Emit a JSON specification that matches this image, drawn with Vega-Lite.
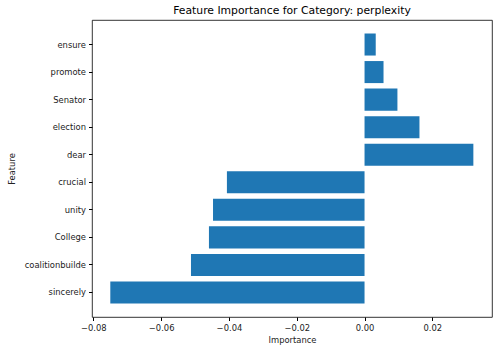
{
  "$schema": "https://vega.github.io/schema/vega-lite/v6.json",
  "width": 400,
  "height": 297,
  "autosize": {"type": "none"},
  "padding": {"left": 92, "top": 20, "right": 6, "bottom": 35},
  "background": "white",
  "title": {
    "text": "Feature Importance for Category: perplexity",
    "font": "DejaVu Sans",
    "fontSize": 10.8,
    "fontWeight": "normal",
    "color": "black",
    "offset": 4,
    "anchor": "middle"
  },
  "config": {
    "view": {"stroke": "black", "strokeWidth": 0.8},
    "axis": {
      "labelFont": "DejaVu Sans",
      "titleFont": "DejaVu Sans",
      "labelFontSize": 8.4,
      "titleFontSize": 8.4,
      "titleFontWeight": "normal",
      "labelColor": "#222",
      "titleColor": "#222",
      "tickColor": "black",
      "domainColor": "black",
      "tickSize": 3.5,
      "labelPadding": 3,
      "grid": false,
      "domain": false
    }
  },
  "data": {
    "values": [
      {"feature": "ensure", "importance": 0.0033},
      {"feature": "promote", "importance": 0.0056},
      {"feature": "Senator", "importance": 0.0097},
      {"feature": "election", "importance": 0.0162},
      {"feature": "dear", "importance": 0.0321},
      {"feature": "crucial", "importance": -0.0406},
      {"feature": "unity", "importance": -0.0447},
      {"feature": "College", "importance": -0.0459},
      {"feature": "coalitionbuilde", "importance": -0.0512},
      {"feature": "sincerely", "importance": -0.075}
    ]
  },
  "mark": {"type": "bar", "color": "#1f77b4"},
  "encoding": {
    "y": {
      "field": "feature",
      "type": "nominal",
      "sort": ["ensure", "promote", "Senator", "election", "dear", "crucial", "unity", "College", "coalitionbuilde", "sincerely"],
      "scale": {"paddingInner": 0.2, "paddingOuter": 0.49},
      "axis": {"title": "Feature", "titlePadding": 8, "labelAngle": 0}
    },
    "x": {
      "field": "importance",
      "type": "quantitative",
      "scale": {"domain": [-0.0804, 0.0376], "nice": false, "zero": false},
      "axis": {"title": "Importance", "values": [-0.08, -0.06, -0.04, -0.02, 0, 0.02], "format": ".2f", "titlePadding": 4}
    }
  }
}
